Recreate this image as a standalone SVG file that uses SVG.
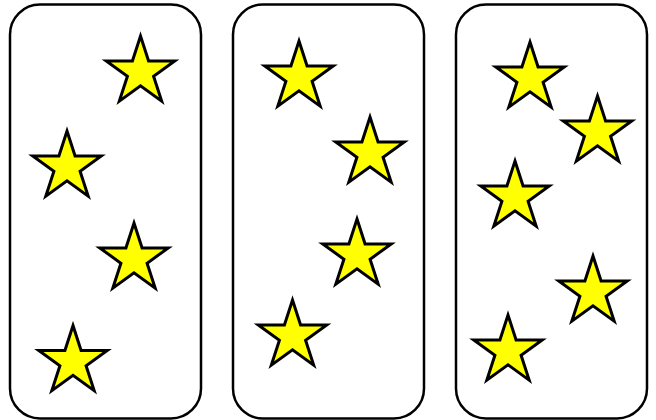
<svg xmlns="http://www.w3.org/2000/svg" xmlns:xlink="http://www.w3.org/1999/xlink" width="656" height="420" viewBox="0 0 656 420">
<style>
.panel{fill:#ffffff;stroke:#000000;stroke-width:2.5}
.star{fill:#ffff00;stroke:#000000;stroke-width:3}
</style>
<defs>
<polygon id="star" class="star" points="0,-36 8.08,-11.12 34.24,-11.12 13.08,4.25 21.16,29.12 0,13.75 -21.16,29.12 -13.08,4.25 -34.24,-11.12 -8.08,-11.12"/>
</defs>
<rect width="656" height="420" fill="#ffffff"/>
<g id="panel1">
<rect class="panel" x="10" y="4.5" width="191" height="414" rx="30" ry="30"/>
<use href="#star" xlink:href="#star" x="140.5" y="72"/>
<use href="#star" xlink:href="#star" x="67" y="167"/>
<use href="#star" xlink:href="#star" x="134" y="259"/>
<use href="#star" xlink:href="#star" x="73" y="361.5"/>
</g>
<g id="panel2">
<rect class="panel" x="233" y="4.5" width="191" height="414" rx="30" ry="30"/>
<use href="#star" xlink:href="#star" x="299" y="77"/>
<use href="#star" xlink:href="#star" x="370" y="153"/>
<use href="#star" xlink:href="#star" x="357" y="255"/>
<use href="#star" xlink:href="#star" x="292.5" y="336"/>
</g>
<g id="panel3">
<rect class="panel" x="456" y="4.5" width="191" height="414" rx="30" ry="30"/>
<use href="#star" xlink:href="#star" x="530" y="78"/>
<use href="#star" xlink:href="#star" x="597.5" y="132"/>
<use href="#star" xlink:href="#star" x="515" y="197"/>
<use href="#star" xlink:href="#star" x="593" y="292"/>
<use href="#star" xlink:href="#star" x="508" y="351"/>
</g>
<g id="connectors"/>
</svg>
